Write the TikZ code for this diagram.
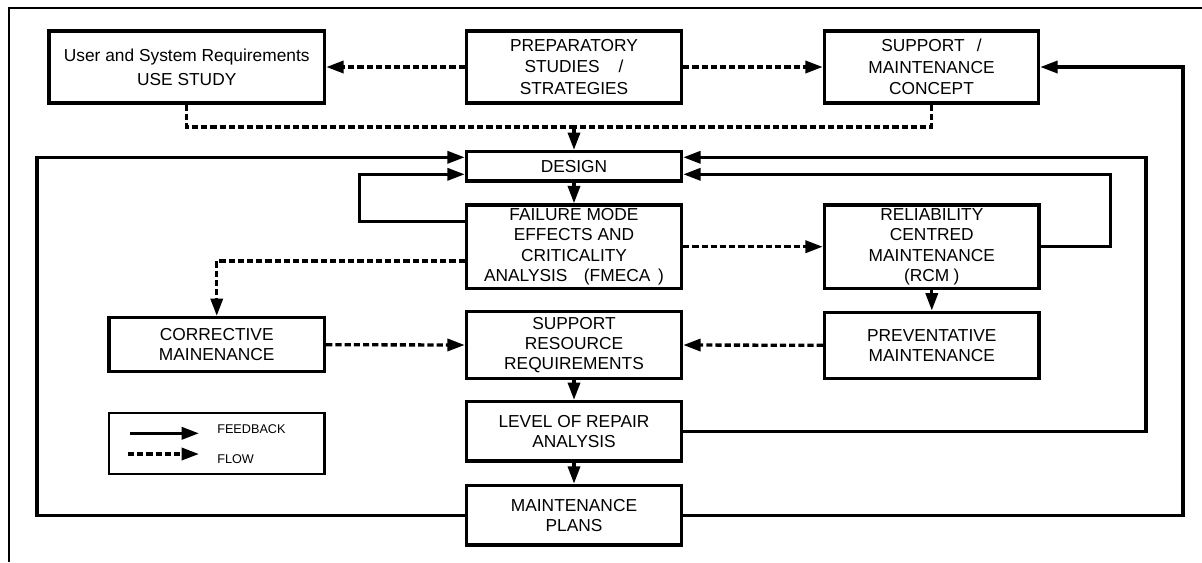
\documentclass[tikz,border=0pt]{standalone}
\usepackage{fontspec}
\setmainfont{Liberation Sans}
\usetikzlibrary{arrows.meta,calc}

\begin{document}
\begin{tikzpicture}[x=0.75pt,y=-0.75pt,
  box/.style 2 args={draw, line width=2.6pt, inner sep=0pt, align=center,
    minimum width=#1*0.75pt, minimum height=#2*0.75pt,
    font=\fontsize{13}{15.2}\selectfont},
  tip/.style={-{Triangle[length=13pt,width=9pt]}},
  fb/.style={line width=2.5pt, tip},
  flowline/.style={line width=2.5pt, dash pattern=on 4.6pt off 2.3pt},
  flow/.style={flowline, tip},
  legendtext/.style={anchor=west, inner sep=0pt, font=\fontsize{9.5}{11}\selectfont},
]
\useasboundingbox (0,0) rectangle (1202,562);

% outer frame
\coordinate (f1) at (9,562);
\coordinate (f2) at (9,8);
\coordinate (f3) at (1202,8);
\draw[line width=1.2pt] (f1) -- (f2) -- (f3);

% top row
\node[box={275.5}{72}, font=\fontsize{13}{18}\selectfont] (user) at (186.75,67)
  {User and System Requirements\\USE STUDY};
\node[box={215}{72}, font=\fontsize{13}{16}\selectfont] (prep) at (574,67)
  {PREPARATORY\\STUDIES\hspace{1.1em}/\\STRATEGIES};
\node[box={214}{72}, font=\fontsize{13}{16}\selectfont] (supp) at (931.5,67)
  {SUPPORT\hspace{0.7em}/\\MAINTENANCE\\CONCEPT};

% centre column
\node[box={215}{29.3}] (design) at (574,166.3) {DESIGN};
\node[box={215}{83.3}] (fmeca) at (574,246.7)
  {FAILURE MODE\\EFFECTS AND\\CRITICALITY\\ANALYSIS\hspace{0.95em}(FMECA\hspace{0.45em})};
\node[box={215}{66.6}] (sres) at (574,345)
  {SUPPORT\\RESOURCE\\REQUIREMENTS};
\node[box={215}{59.3}] (lora) at (574,431.3)
  {LEVEL OF REPAIR\\ANALYSIS};
\node[box={215}{59.5}] (plans) at (574,515.2)
  {MAINTENANCE\\PLANS};

% side boxes
\node[box={214.5}{83.3}] (rcm) at (931.8,246.7)
  {RELIABILITY\\CENTRED\\MAINTENANCE\\(RCM\hspace{0.25em})};
\node[box={214.5}{66}] (prev) at (931.8,345.3)
  {PREVENTATIVE\\MAINTENANCE};
\node[box={215.5}{54}] (corr) at (216.75,344.7)
  {CORRECTIVE\\MAINENANCE};

% flow connectors (dashed)
\coordinate (merge) at (574,127);
\draw[flow] (prep.west) -- (user.east);
\draw[flow] (prep.east) -- (supp.west);
\draw[flowline] (user.south) |- (merge);
\draw[flowline] (supp.south) |- (merge);
\draw[flow] (merge) -- (design.north);
\draw[flow] (design.south) -- (fmeca.north);
\draw[flow] (fmeca.east) -- (rcm.west);
\coordinate (yF) at (0,261);
\draw[flow] (fmeca.west |- yF) -| (corr.north);
\draw[flow] (rcm.south) -- (prev.north);
\draw[flow] (corr.east) -- (sres.west);
\draw[flow] (prev.west) -- (sres.east);
\draw[flow] (sres.south) -- (lora.north);
\draw[flow] (lora.south) -- (plans.north);

% feedback connectors (solid)
\coordinate (cA) at (37,157.3);
\draw[fb] (plans.west) -| (cA) -- (design.west |- cA);
\coordinate (yB) at (0,221.7);
\coordinate (cB) at (359.7,174.3);
\draw[fb] (fmeca.west |- yB) -| (cB) -- (design.west |- cB);
\coordinate (cC) at (1146,157.3);
\draw[fb] (lora.east) -| (cC) -- (design.east |- cC);
\coordinate (cD) at (1110.6,174.3);
\draw[fb] (rcm.east) -| (cD) -- (design.east |- cD);
\coordinate (cE) at (1183,67);
\draw[fb] (plans.east) -| (cE) -- (supp.east);

% legend
\node[draw, line width=1.6pt, inner sep=0pt, minimum width=215.5*0.75pt,
  minimum height=60.7*0.75pt] (legend) at (216.75,443.7) {};
\coordinate (lf1) at (130,433.3);
\coordinate (lf2) at (199,433.3);
\coordinate (lw1) at (128,454);
\coordinate (lw2) at (199,454);
\draw[fb] (lf1) -- (lf2);
\draw[flow] (lw1) -- (lw2);
\node[legendtext] (lfbt) at (217,429) {FEEDBACK};
\node[legendtext] (lflt) at (217,459) {FLOW};
\end{tikzpicture}
\end{document}
